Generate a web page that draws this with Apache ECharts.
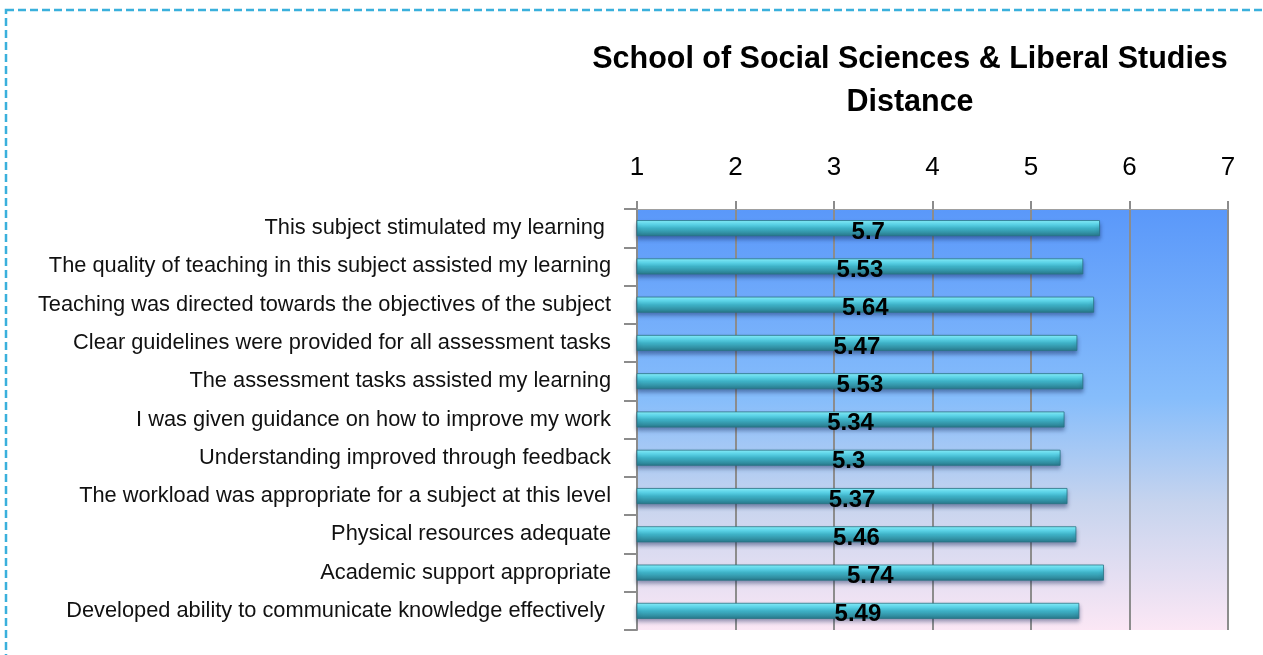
<!DOCTYPE html>
<html>
<head>
<meta charset="utf-8">
<style>
  html, body { margin: 0; padding: 0; background: #fff; }
  #main { width: 1263px; height: 655px; }
</style>
<script src="https://cdn.jsdelivr.net/npm/echarts@6/dist/echarts.min.js"></script>
</head>
<body>
<div id="main"></div>
<script>
var categories = [
    'This subject stimulated my learning ',
    'The quality of teaching in this subject assisted my learning',
    'Teaching was directed towards the objectives of the subject',
    'Clear guidelines were provided for all assessment tasks',
    'The assessment tasks assisted my learning',
    'I was given guidance on how to improve my work',
    'Understanding improved through feedback',
    'The workload was appropriate for a subject at this level',
    'Physical resources adequate',
    'Academic support appropriate',
    'Developed ability to communicate knowledge effectively '
];
var scores = [5.7, 5.53, 5.64, 5.47, 5.53, 5.34, 5.3, 5.37, 5.46, 5.74, 5.49];

var font = "'Liberation Sans', Arial, sans-serif";

var chartDom = document.getElementById('main');
var myChart = echarts.init(chartDom);

var option = {
    animation: false,
    title: {
        text: 'School of Social Sciences & Liberal Studies\nDistance',
        left: 905,
        top: 33,
        textAlign: 'center',
        textStyle: {
            fontFamily: font,
            fontWeight: 'bold',
            fontSize: 30.5,
            lineHeight: 43,
            color: '#000'
        }
    },
    graphic: [{
        type: 'rect',
        shape: { x: 6, y: 10, width: 1300, height: 700 },
        style: { fill: 'none', stroke: '#3ab0dc', lineWidth: 2.5, lineDash: [8, 4] },
        silent: true
    }],
    grid: {
        left: 637,
        right: 35,
        top: 209,
        bottom: 25,
        show: true,
        borderWidth: 0,
        backgroundColor: {
            type: 'linear', x: 0, y: 0, x2: 0, y2: 1,
            colorStops: [
                { offset: 0, color: '#5a98fa' },
                { offset: 0.45, color: '#86bdfb' },
                { offset: 0.7, color: '#c7d4ee' },
                { offset: 1, color: '#fbe7f5' }
            ]
        }
    },
    xAxis: {
        type: 'value',
        position: 'top',
        min: 1,
        max: 7,
        interval: 1,
        axisLine: { show: true, lineStyle: { color: '#a0a0a0', width: 1 } },
        axisTick: { show: true, length: 8, lineStyle: { color: '#8c8c8c', width: 2 } },
        axisLabel: {
            margin: 28,
            fontFamily: font,
            fontSize: 26,
            color: '#000'
        },
        splitLine: { show: true, lineStyle: { color: '#8c8c8c', width: 2 } }
    },
    yAxis: {
        type: 'category',
        inverse: true,
        data: categories,
        axisLine: { show: true, lineStyle: { color: '#8c8c8c', width: 2 } },
        axisTick: { show: true, length: 13, lineStyle: { color: '#8c8c8c', width: 2 } },
        axisLabel: {
            margin: 26,
            fontFamily: font,
            fontSize: 21.8,
            color: '#111'
        }
    },
    series: [{
        type: 'bar',
        data: scores,
        barWidth: 16,
        itemStyle: {
            color: {
                type: 'linear', x: 0, y: 0, x2: 0, y2: 1,
                colorStops: [
                    { offset: 0, color: '#8ef6ff' },
                    { offset: 0.25, color: '#62e0f2' },
                    { offset: 0.5, color: '#3fb3c8' },
                    { offset: 1, color: '#28788a' }
                ]
            },
            borderColor: '#2a7484',
            borderWidth: 0.8,
            shadowColor: 'rgba(20, 40, 90, 0.45)',
            shadowBlur: 4,
            shadowOffsetY: 3
        },
        label: {
            show: true,
            position: 'inside',
            offset: [0, 4],
            fontFamily: font,
            fontWeight: 'bold',
            fontSize: 24,
            color: '#000'
        }
    }]
};

option && myChart.setOption(option);
</script>
</body>
</html>
